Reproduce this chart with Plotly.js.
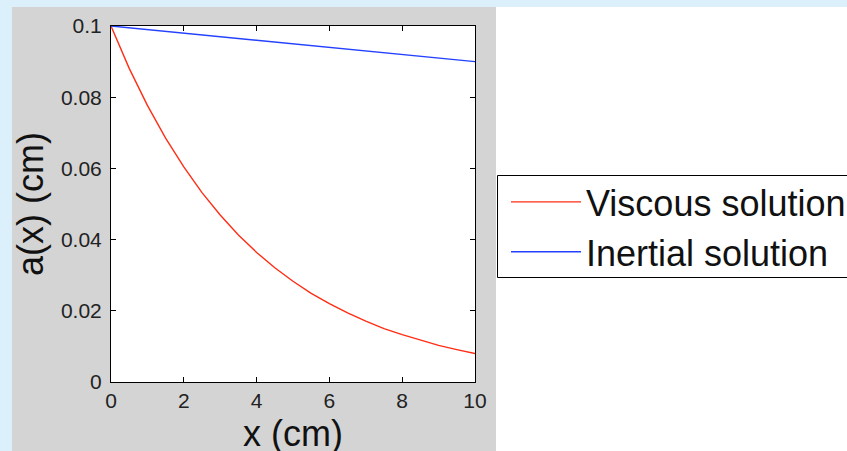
<!DOCTYPE html>
<html>
<head>
<meta charset="utf-8">
<script src="https://cdn.plot.ly/plotly-3.0.1.min.js"></script>
<style>html,body{margin:0;padding:0;background:#dcf0fc;}#chart{width:847px;height:451px;}</style>
</head>
<body>
<div id="chart"></div>
<script>
// ---- data ----
const xViscous = [0, 0.5, 1, 1.5, 2, 2.5, 3, 3.5, 4, 4.5, 5, 5.5, 6, 6.5, 7, 7.5, 8, 8.5, 9, 9.5, 10];
const aViscous = [0.1, 0.0881, 0.0777, 0.0685, 0.0604, 0.0532, 0.0469, 0.0413, 0.0364, 0.0321, 0.0283,
                  0.0249, 0.0220, 0.0194, 0.0171, 0.0150, 0.0133, 0.0117, 0.0103, 0.0091, 0.0080];
const xInertial = [0, 2, 4, 6, 8, 10];
const aInertial = [0.1, 0.098, 0.096, 0.094, 0.092, 0.090];
const seriesNames = ['Viscous solution', 'Inertial solution'];
const xTitle = 'x (cm)';
const yTitle = 'a(x) (cm)';
const xTicks = [0, 2, 4, 6, 8, 10];
const xTickText = ['0', '2', '4', '6', '8', '10'];
const yTicks = [0, 0.02, 0.04, 0.06, 0.08, 0.1];
const yTickText = ['0', '0.02', '0.04', '0.06', '0.08', '0.1'];

// ---- layout helpers (pixel -> paper) ----
const W = 847, H = 451;
const M = {l: 111, r: 372, t: 26, b: 69, autoexpand: false};
const pw = W - M.l - M.r, ph = H - M.t - M.b;
const px = v => (v - M.l) / pw;
const py = v => (H - M.b - v) / ph;

const font = 'Liberation Sans, Arial, sans-serif';
const axisCommon = {
  showline: true, mirror: 'ticks', linecolor: '#000', linewidth: 1,
  ticks: 'inside', ticklen: 5, tickcolor: '#000', tickwidth: 1,
  showgrid: false, zeroline: false, fixedrange: true, automargin: false,
  tickfont: {family: font, size: 21, color: '#222'}
};

const traces = [
  {x: xViscous, y: aViscous, name: seriesNames[0], type: 'scatter', mode: 'lines',
   line: {color: 'rgb(255,45,20)', width: 1.4}},
  {x: xInertial, y: aInertial, name: seriesNames[1], type: 'scatter', mode: 'lines',
   line: {color: 'rgb(35,65,255)', width: 1.4}}
];

const layout = {
  width: W, height: H, margin: M,
  paper_bgcolor: '#dcf0fc', plot_bgcolor: '#ffffff',
  showlegend: true,
  legend: {x: px(506), xanchor: 'left', y: py(172), yanchor: 'top',
    bgcolor: 'rgba(0,0,0,0)', borderwidth: 0,
    font: {family: font, size: 36, color: '#111'}, itemwidth: 70},
  xaxis: Object.assign({}, axisCommon, {range: [0, 10], tickvals: xTicks, ticktext: xTickText}),
  yaxis: Object.assign({}, axisCommon, {range: [0, 0.1], tickvals: yTicks, ticktext: yTickText,
    ticklabelstandoff: 4,
    title: {text: yTitle, font: {family: font, size: 36, color: '#111'}, standoff: 6}}),
  annotations: [
    {text: xTitle, xref: 'paper', yref: 'paper', x: 0.5, xanchor: 'center', y: py(411), yanchor: 'top',
     showarrow: false, font: {family: font, size: 36, color: '#111'}}
  ],
  shapes: [
    {type: 'rect', xref: 'paper', yref: 'paper', layer: 'below', x0: px(12), x1: px(496), y0: py(7), y1: py(460),
     fillcolor: '#d4d4d4', line: {width: 0}},
    {type: 'rect', xref: 'paper', yref: 'paper', layer: 'below', x0: px(496), x1: px(860), y0: py(7), y1: py(460),
     fillcolor: '#ffffff', line: {width: 0}},
    {type: 'rect', xref: 'x', yref: 'y', layer: 'below', x0: 0, x1: 10, y0: 0, y1: 0.1,
     fillcolor: '#ffffff', line: {width: 0}},
    // legend frame
    {type: 'rect', xref: 'paper', yref: 'paper', layer: 'below', x0: px(497.5), x1: px(870), y0: py(175.5), y1: py(277.5),
     fillcolor: '#ffffff', line: {color: '#000', width: 1}}
  ]
};

Plotly.newPlot('chart', traces, layout, {staticPlot: true, displayModeBar: false});
</script>
</body>
</html>
